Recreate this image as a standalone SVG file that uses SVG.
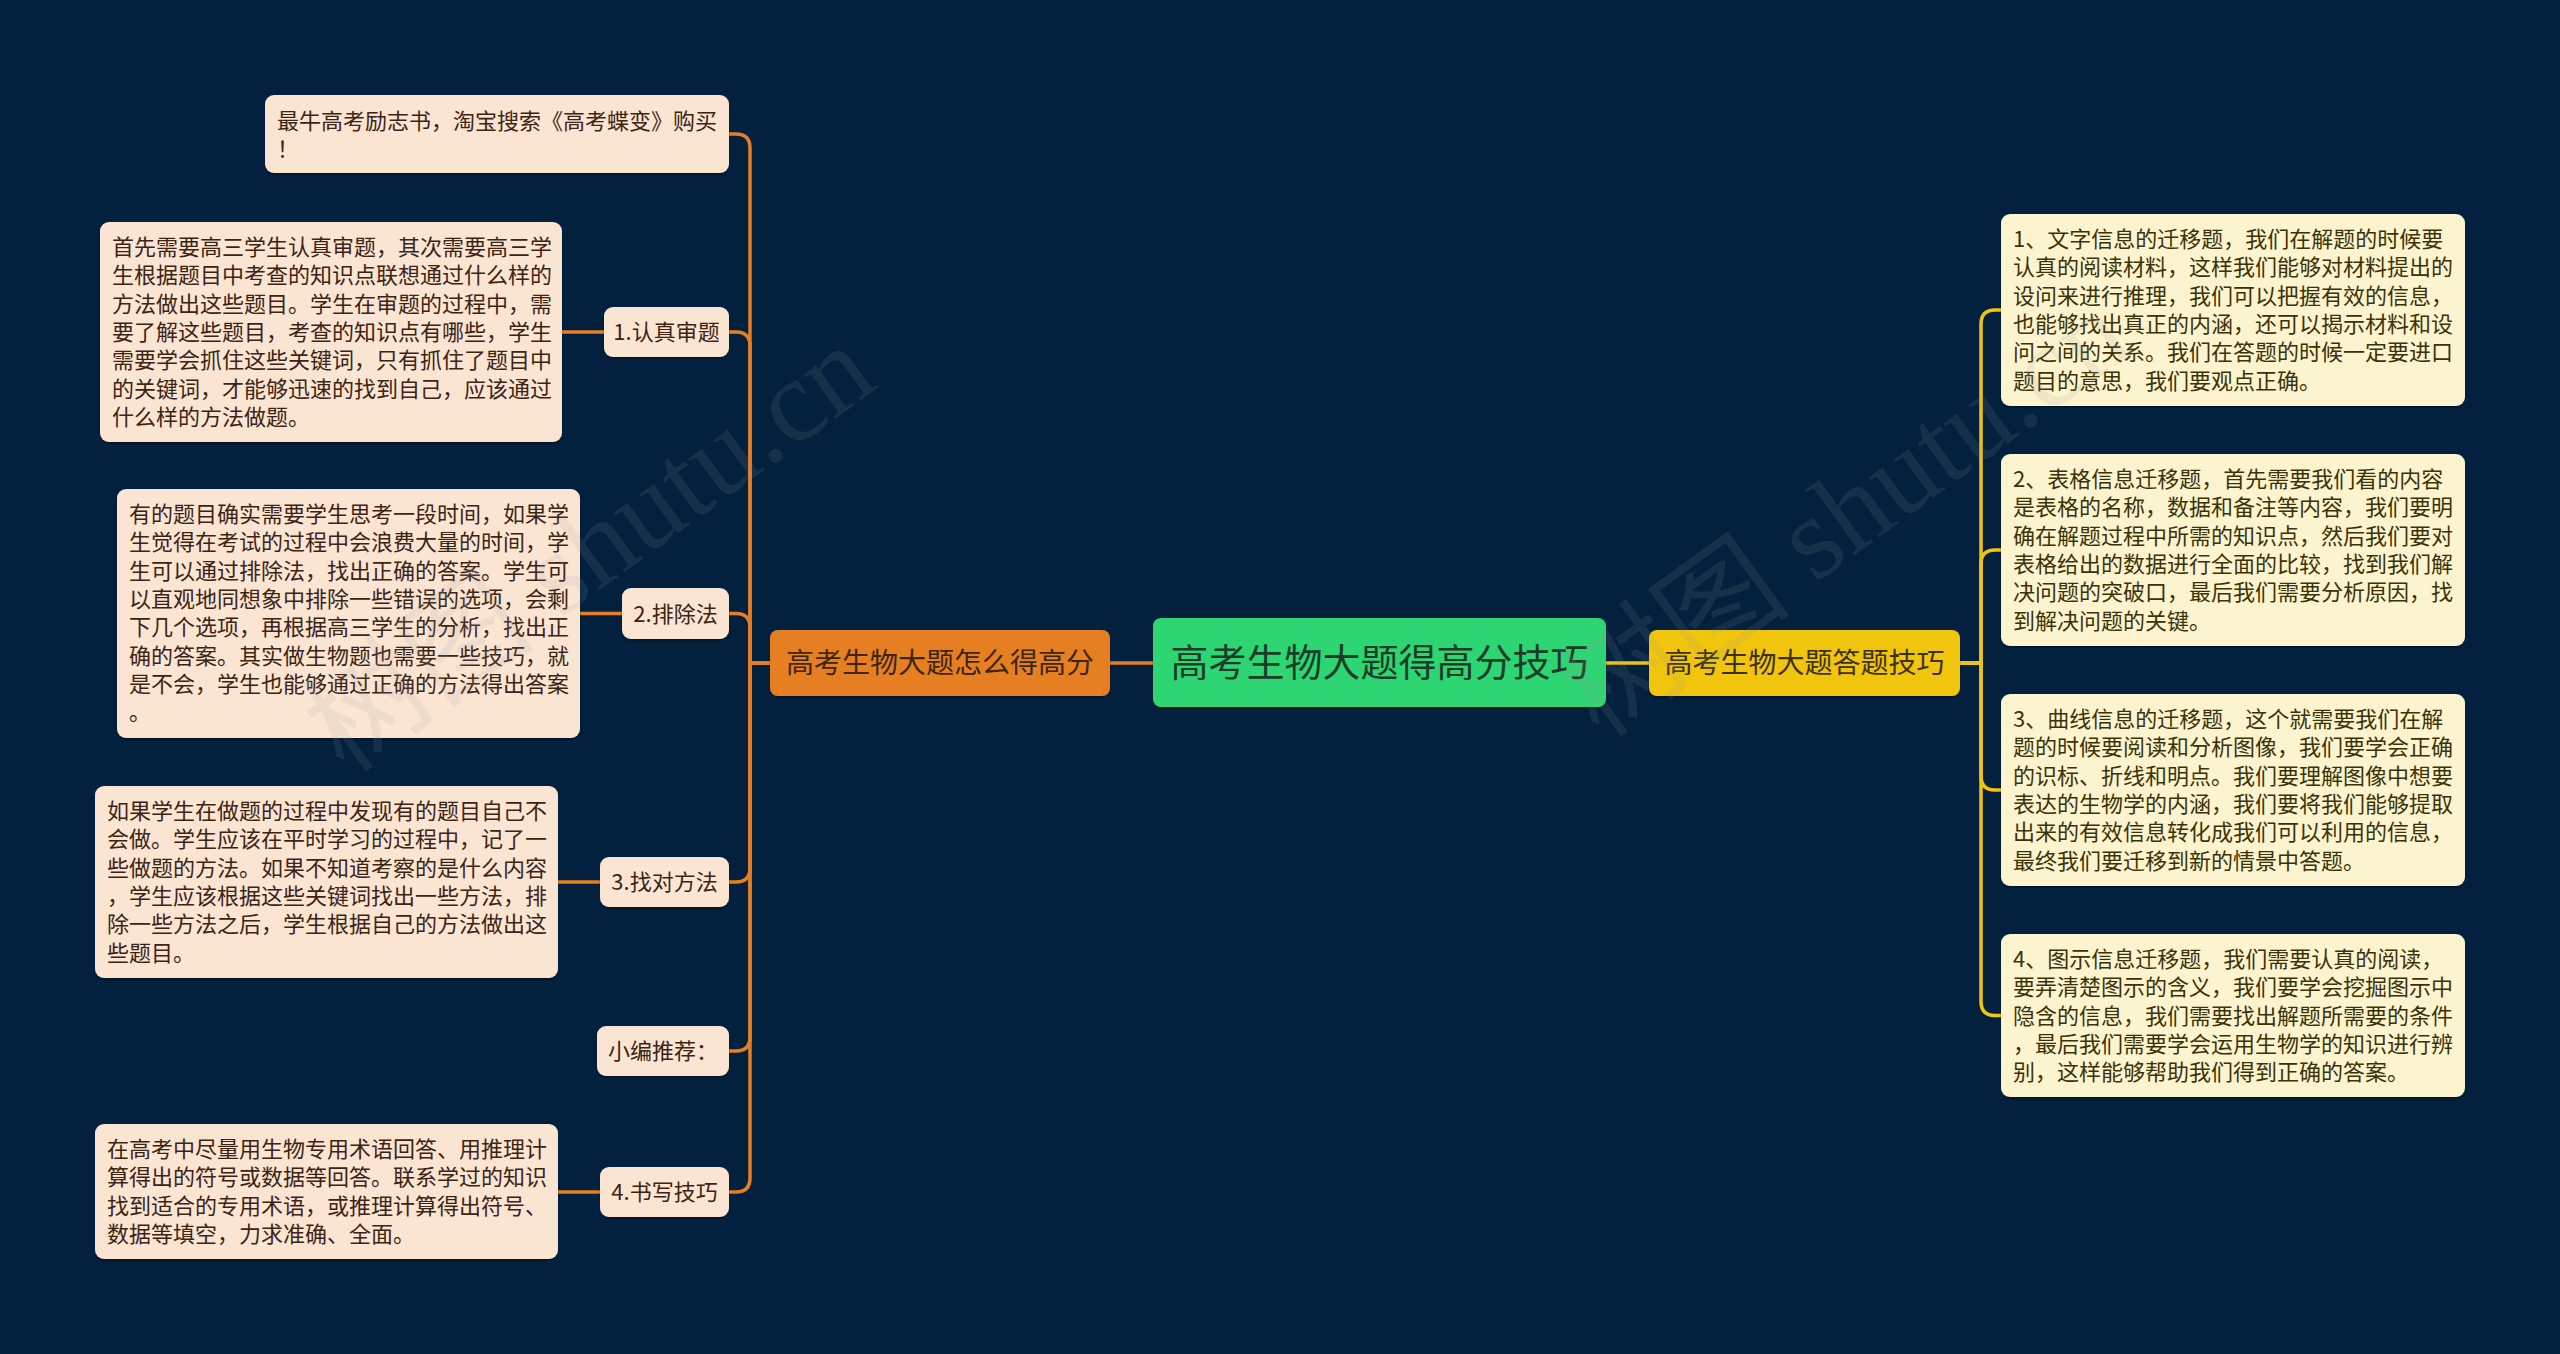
<svg xmlns="http://www.w3.org/2000/svg" width="2560" height="1354" viewBox="0 0 2560 1354">
<defs>
<filter id="sh" x="-5%" y="-5%" width="110%" height="120%">
<feDropShadow dx="0" dy="2" stdDeviation="1" flood-color="#000" flood-opacity="0.35"/>
</filter>
</defs>
<style>
.t{font-family:"Noto Sans CJK SC","Noto Sans",sans-serif}
.lb{fill:#fae5d3;filter:url(#sh)}
.rb{fill:#fcf3cf;filter:url(#sh)}
.lt{font-size:22px;fill:#3c2415}
.rt{font-size:22px;fill:#3b3306}
.lc{fill:none;stroke:#e67e22;stroke-width:3.5}
.rc{fill:none;stroke:#f1c40f;stroke-width:3.5}
.wm{font-family:"Liberation Serif","Noto Sans CJK SC",serif;font-size:118px;fill:#9a9a9a;fill-opacity:0.13}
</style>
<rect width="2560" height="1354" fill="#03213f"/>

<g id="connectors">
<line class="lc" x1="1110" y1="663" x2="1153" y2="663"/>
<line class="rc" x1="1606" y1="663" x2="1649" y2="663"/>
<path class="lc" d="M770 663 H750 V148 Q750 134 736 134 H729"/>
<path class="lc" d="M770 663 H750 V346 Q750 332 736 332 H729"/>
<path class="lc" d="M770 663 H750 V627.5 Q750 613.5 736 613.5 H729"/>
<path class="lc" d="M770 663 H750 V868 Q750 882 736 882 H729"/>
<path class="lc" d="M770 663 H750 V1037 Q750 1051 736 1051 H729"/>
<path class="lc" d="M770 663 H750 V1178 Q750 1192 736 1192 H729"/>
<line class="lc" x1="562" y1="332" x2="604" y2="332"/>
<line class="lc" x1="580" y1="613.5" x2="622" y2="613.5"/>
<line class="lc" x1="558" y1="882" x2="600" y2="882"/>
<line class="lc" x1="558" y1="1192" x2="600" y2="1192"/>
<path class="rc" d="M1960 663 H1981 V324 Q1981 310 1995 310 H2001"/>
<path class="rc" d="M1960 663 H1981 V564 Q1981 550 1995 550 H2001"/>
<path class="rc" d="M1960 663 H1981 V776 Q1981 790 1995 790 H2001"/>
<path class="rc" d="M1960 663 H1981 V1001.5 Q1981 1015.5 1995 1015.5 H2001"/>
</g>

<g id="center">
<rect x="1153" y="618" width="453" height="89" rx="8" fill="#2ed573" filter="url(#sh)"/>
<text class="t" x="1379.5" y="676" text-anchor="middle" font-size="38" fill="#1a3d28">高考生物大题得高分技巧</text>
</g>

<g id="left-main">
<rect x="770" y="630" width="340" height="66" rx="8" fill="#e67e22" filter="url(#sh)"/>
<text class="t" x="940" y="673" text-anchor="middle" font-size="28" fill="#3f2508">高考生物大题怎么得高分</text>
</g>

<g id="right-main">
<rect x="1649" y="630" width="311" height="66" rx="8" fill="#f1c40f" filter="url(#sh)"/>
<text class="t" x="1804.5" y="673" text-anchor="middle" font-size="28" fill="#3d3100">高考生物大题答题技巧</text>
</g>

<g id="ad">
<rect class="lb" x="265" y="95" width="464" height="78" rx="9"/>
<text class="t lt" x="277" y="128.5">最牛高考励志书，淘宝搜索《高考蝶变》购买<tspan x="277" dy="28.3">！</tspan></text>
</g>

<g id="n1">
<rect class="lb" x="604" y="307" width="125" height="50" rx="9"/>
<text class="t lt" x="666.5" y="340" text-anchor="middle">1.认真审题</text>
</g>
<g id="n1-text">
<rect class="lb" x="100" y="222" width="462" height="220" rx="9"/>
<text class="t lt" x="112" y="255">首先需要高三学生认真审题，其次需要高三学<tspan x="112" dy="28.3">生根据题目中考查的知识点联想通过什么样的</tspan><tspan x="112" dy="28.3">方法做出这些题目。学生在审题的过程中，需</tspan><tspan x="112" dy="28.3">要了解这些题目，考查的知识点有哪些，学生</tspan><tspan x="112" dy="28.3">需要学会抓住这些关键词，只有抓住了题目中</tspan><tspan x="112" dy="28.3">的关键词，才能够迅速的找到自己，应该通过</tspan><tspan x="112" dy="28.3">什么样的方法做题。</tspan></text>
</g>

<g id="n2">
<rect class="lb" x="622" y="588" width="107" height="51" rx="9"/>
<text class="t lt" x="675.5" y="621.5" text-anchor="middle">2.排除法</text>
</g>
<g id="n2-text">
<rect class="lb" x="117" y="489" width="463" height="249" rx="9"/>
<text class="t lt" x="129" y="522">有的题目确实需要学生思考一段时间，如果学<tspan x="129" dy="28.3">生觉得在考试的过程中会浪费大量的时间，学</tspan><tspan x="129" dy="28.3">生可以通过排除法，找出正确的答案。学生可</tspan><tspan x="129" dy="28.3">以直观地同想象中排除一些错误的选项，会剩</tspan><tspan x="129" dy="28.3">下几个选项，再根据高三学生的分析，找出正</tspan><tspan x="129" dy="28.3">确的答案。其实做生物题也需要一些技巧，就</tspan><tspan x="129" dy="28.3">是不会，学生也能够通过正确的方法得出答案</tspan><tspan x="129" dy="28.3">。</tspan></text>
</g>

<g id="n3">
<rect class="lb" x="600" y="857" width="129" height="50" rx="9"/>
<text class="t lt" x="664.5" y="890" text-anchor="middle">3.找对方法</text>
</g>
<g id="n3-text">
<rect class="lb" x="95" y="786" width="463" height="192" rx="9"/>
<text class="t lt" x="107" y="819">如果学生在做题的过程中发现有的题目自己不<tspan x="107" dy="28.3">会做。学生应该在平时学习的过程中，记了一</tspan><tspan x="107" dy="28.3">些做题的方法。如果不知道考察的是什么内容</tspan><tspan x="107" dy="28.3">，学生应该根据这些关键词找出一些方法，排</tspan><tspan x="107" dy="28.3">除一些方法之后，学生根据自己的方法做出这</tspan><tspan x="107" dy="28.3">些题目。</tspan></text>
</g>

<g id="rec">
<rect class="lb" x="597" y="1026" width="132" height="50" rx="9"/>
<text class="t lt" x="663" y="1059" text-anchor="middle">小编推荐：</text>
</g>

<g id="n4">
<rect class="lb" x="600" y="1167" width="129" height="50" rx="9"/>
<text class="t lt" x="664.5" y="1200" text-anchor="middle">4.书写技巧</text>
</g>
<g id="n4-text">
<rect class="lb" x="95" y="1124" width="463" height="135" rx="9"/>
<text class="t lt" x="107" y="1157">在高考中尽量用生物专用术语回答、用推理计<tspan x="107" dy="28.3">算得出的符号或数据等回答。联系学过的知识</tspan><tspan x="107" dy="28.3">找到适合的专用术语，或推理计算得出符号、</tspan><tspan x="107" dy="28.3">数据等填空，力求准确、全面。</tspan></text>
</g>

<g id="r1">
<rect class="rb" x="2001" y="214" width="464" height="192" rx="9"/>
<text class="t rt" x="2013" y="247">1、文字信息的迁移题，我们在解题的时候要<tspan x="2013" dy="28.3">认真的阅读材料，这样我们能够对材料提出的</tspan><tspan x="2013" dy="28.3">设问来进行推理，我们可以把握有效的信息，</tspan><tspan x="2013" dy="28.3">也能够找出真正的内涵，还可以揭示材料和设</tspan><tspan x="2013" dy="28.3">问之间的关系。我们在答题的时候一定要进口</tspan><tspan x="2013" dy="28.3">题目的意思，我们要观点正确。</tspan></text>
</g>

<g id="r2">
<rect class="rb" x="2001" y="454" width="464" height="192" rx="9"/>
<text class="t rt" x="2013" y="487">2、表格信息迁移题，首先需要我们看的内容<tspan x="2013" dy="28.3">是表格的名称，数据和备注等内容，我们要明</tspan><tspan x="2013" dy="28.3">确在解题过程中所需的知识点，然后我们要对</tspan><tspan x="2013" dy="28.3">表格给出的数据进行全面的比较，找到我们解</tspan><tspan x="2013" dy="28.3">决问题的突破口，最后我们需要分析原因，找</tspan><tspan x="2013" dy="28.3">到解决问题的关键。</tspan></text>
</g>

<g id="r3">
<rect class="rb" x="2001" y="694" width="464" height="192" rx="9"/>
<text class="t rt" x="2013" y="727">3、曲线信息的迁移题，这个就需要我们在解<tspan x="2013" dy="28.3">题的时候要阅读和分析图像，我们要学会正确</tspan><tspan x="2013" dy="28.3">的识标、折线和明点。我们要理解图像中想要</tspan><tspan x="2013" dy="28.3">表达的生物学的内涵，我们要将我们能够提取</tspan><tspan x="2013" dy="28.3">出来的有效信息转化成我们可以利用的信息，</tspan><tspan x="2013" dy="28.3">最终我们要迁移到新的情景中答题。</tspan></text>
</g>

<g id="r4">
<rect class="rb" x="2001" y="934" width="464" height="163" rx="9"/>
<text class="t rt" x="2013" y="967">4、图示信息迁移题，我们需要认真的阅读，<tspan x="2013" dy="28.3">要弄清楚图示的含义，我们要学会挖掘图示中</tspan><tspan x="2013" dy="28.3">隐含的信息，我们需要找出解题所需要的条件</tspan><tspan x="2013" dy="28.3">，最后我们需要学会运用生物学的知识进行辨</tspan><tspan x="2013" dy="28.3">别，这样能够帮助我们得到正确的答案。</tspan></text>
</g>

<g id="watermark">
<text class="wm" transform="translate(345,775) rotate(-36)">树图 shutu.cn</text>
<text class="wm" transform="translate(1600,740) rotate(-36)">树图 shutu.cn</text>
</g>
</svg>
